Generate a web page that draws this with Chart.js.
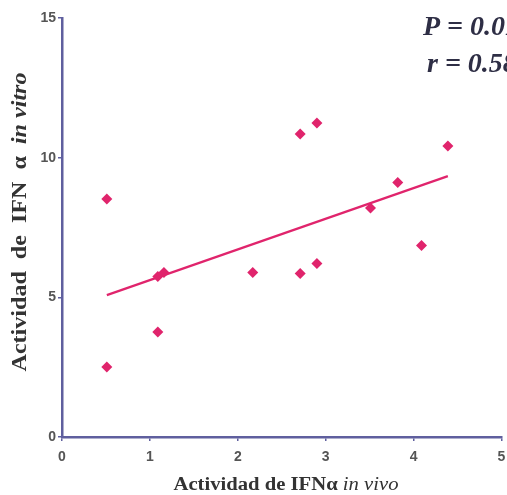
<!DOCTYPE html>
<html><head><meta charset="utf-8">
<script src="https://cdn.jsdelivr.net/npm/chart.js@4.4.0/dist/chart.umd.min.js"></script>
<style>html,body{margin:0;padding:0;background:#fff;}#wrap{width:507px;height:495px;}</style>
</head><body><div id="wrap"><canvas id="c" width="507" height="495"></canvas></div>
<script>
// Data
const xValues = [0.51, 0.51, 1.09, 1.09, 1.16, 2.17, 2.71, 2.90, 2.71, 2.90, 3.51, 3.82, 4.09, 4.39];
const yValues = [8.52, 2.51, 3.76, 5.75, 5.89, 5.89, 10.85, 11.24, 5.85, 6.21, 8.20, 9.11, 6.86, 10.42];
const fitX = [0.51, 4.39];
const fitY = [5.08, 9.34];
const xTicks = [0, 1, 2, 3, 4, 5];
const yTicks = [0, 5, 10, 15];
const xTitle = ['Actividad de IFN\u03b1 ', 'in vivo'];
const yTitle = ['Actividad  de  IFN  \u03b1  ', 'in vitro'];
const stats = ['P = 0.01', 'r = 0.58'];

const pink = '#e0246c';
const axisCol = '#5f5f9e';

function drawTwoPart(ctx, parts, fonts, targetW) {
  ctx.font = fonts[0]; const w1 = ctx.measureText(parts[0]).width;
  ctx.font = fonts[1]; const w2 = ctx.measureText(parts[1]).width;
  const k = targetW / (w1 + w2);
  ctx.scale(k, 1);
  const sx = -(w1 + w2) / 2;
  ctx.font = fonts[0]; ctx.fillText(parts[0], sx, 0);
  ctx.font = fonts[1]; ctx.fillText(parts[1], sx + w1, 0);
}

const annot = {
  id: 'annot',
  afterDraw(chart) {
    const ctx = chart.ctx;
    ctx.save();
    ctx.fillStyle = '#2e2e45';
    ctx.font = 'italic bold 28px "Liberation Serif", "DejaVu Serif", serif';
    ctx.textAlign = 'left';
    ctx.textBaseline = 'alphabetic';
    ctx.fillText(stats[0], 423, 35);
    ctx.fillText(stats[1], 427, 72);
    ctx.restore();
    ctx.save();
    ctx.fillStyle = '#333';
    ctx.textAlign = 'left';
    ctx.textBaseline = 'middle';
    ctx.translate(286, 485);
    drawTwoPart(ctx, xTitle, ['bold 18px "Liberation Serif", serif', 'italic 18px "Liberation Serif", serif'], 225);
    ctx.restore();
    ctx.save();
    ctx.fillStyle = '#333';
    ctx.textAlign = 'left';
    ctx.textBaseline = 'middle';
    ctx.translate(21, 222);
    ctx.rotate(-Math.PI / 2);
    drawTwoPart(ctx, yTitle, ['bold 20px "Liberation Serif", serif', 'italic bold 20px "Liberation Serif", serif'], 299);
    ctx.restore();
  }
};

new Chart(document.getElementById('c'), {
  type: 'scatter',
  data: {
    datasets: [
      {
        data: xValues.map((x, i) => ({x: x, y: yValues[i]})),
        pointStyle: 'rectRot',
        pointRadius: 5.5,
        backgroundColor: pink,
        borderColor: pink,
        borderWidth: 0,
        showLine: false
      },
      {
        data: fitX.map((x, i) => ({x: x, y: fitY[i]})),
        showLine: true,
        pointRadius: 0,
        borderColor: pink,
        borderWidth: 2.2,
        backgroundColor: pink
      }
    ]
  },
  options: {
    responsive: false,
    animation: false,
    devicePixelRatio: 1,
    layout: { padding: { top: 18, right: 3, left: 0, bottom: 0 } },
    plugins: { legend: { display: false }, tooltip: { enabled: false } },
    scales: {
      x: {
        type: 'linear', min: 0, max: 5,
        afterBuildTicks(s) { s.ticks = xTicks.map(v => ({value: v})); },
        afterFit(s) { s.height = 58; s.paddingRight = 0; s.paddingLeft = 0; },
        border: { display: true, color: axisCol, width: 2.5 },
        grid: { display: true, drawOnChartArea: false, drawTicks: true, tickLength: 4, color: axisCol, lineWidth: 1.5 },
        ticks: { color: '#555', padding: 8, font: { family: '"Liberation Sans", Arial, sans-serif', size: 14, weight: 'bold' } }
      },
      y: {
        type: 'linear', min: 0, max: 15,
        afterBuildTicks(s) { s.ticks = yTicks.map(v => ({value: v})); },
        afterFit(s) { s.width = 62; s.paddingTop = 0; s.paddingBottom = 0; },
        border: { display: true, color: axisCol, width: 2.5 },
        grid: { display: true, drawOnChartArea: false, drawTicks: true, tickLength: 4, color: axisCol, lineWidth: 1.5 },
        ticks: { color: '#555', padding: 2, font: { family: '"Liberation Sans", Arial, sans-serif', size: 14, weight: 'bold' } }
      }
    }
  },
  plugins: [annot]
});
</script>
</body></html>
